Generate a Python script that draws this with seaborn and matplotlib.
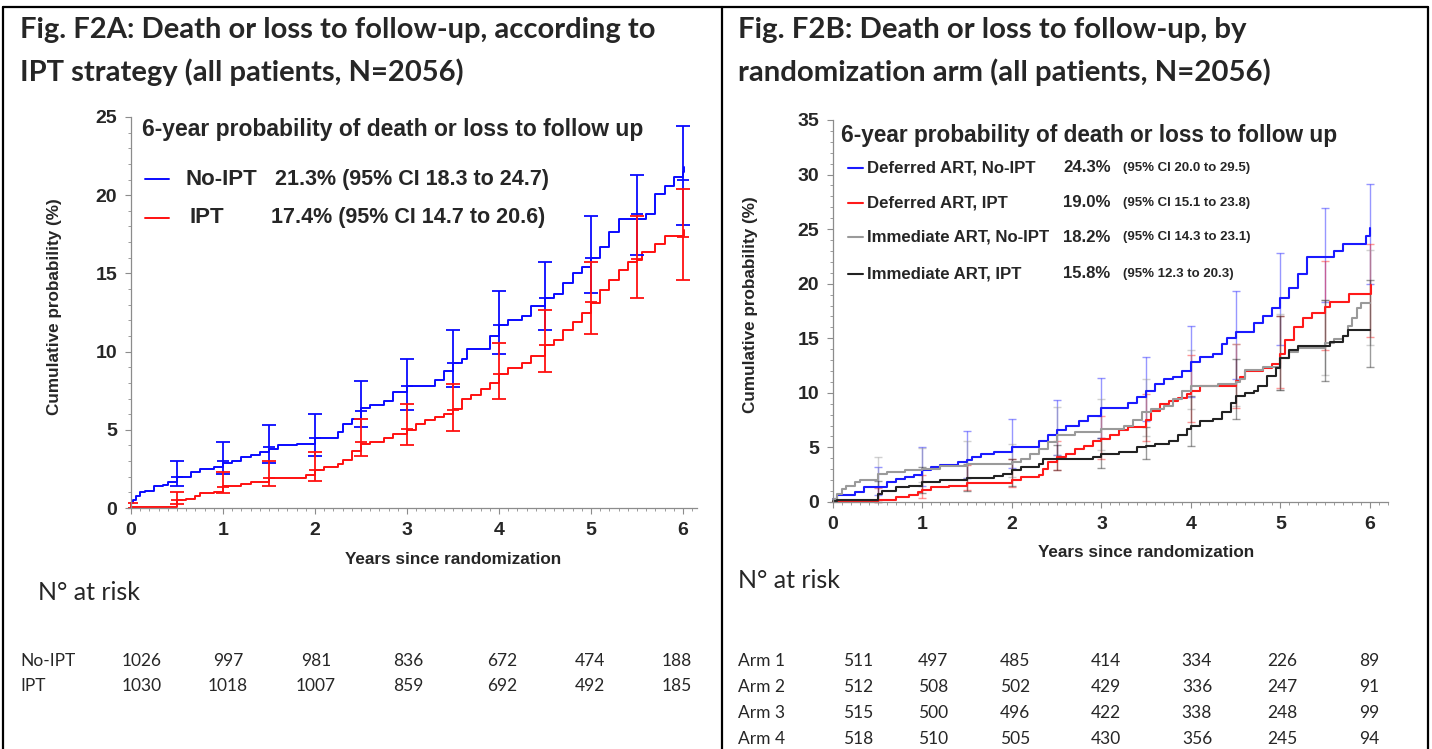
import numpy as np
import pandas as pd
import seaborn as sns
from matplotlib import pyplot as plt
from matplotlib.lines import Line2D
from matplotlib.ticker import MultipleLocator

# ---- data: left panel (IPT strategy) ----
ipt_arms = ["No-IPT", "IPT"]
noipt_t = [0, 0.02, 0.05, 0.1, 0.15, 0.25, 0.35, 0.4, 0.5, 0.65, 0.75, 0.9, 1.0, 1.1, 1.2, 1.3, 1.4,
           1.5, 1.6, 1.8, 2.0, 2.25, 2.3, 2.4, 2.5, 2.6, 2.75, 2.85, 3.0, 3.3, 3.4, 3.5, 3.6, 3.65,
           3.9, 4.0, 4.1, 4.25, 4.35, 4.5, 4.6, 4.7, 4.8, 4.9, 5.0, 5.1, 5.2, 5.3, 5.6, 5.7, 5.8,
           5.9, 6.0, 6.01]
noipt_v = [0.3, 0.5, 0.8, 1.0, 1.1, 1.4, 1.5, 1.65, 2.0, 2.3, 2.5, 2.65, 2.9, 3.0, 3.25, 3.4, 3.55,
           3.8, 4.0, 4.1, 4.45, 4.85, 5.35, 5.7, 6.4, 6.6, 6.85, 7.4, 7.8, 8.2, 8.75, 9.3, 9.5, 10.15,
           11.0, 11.7, 12.0, 12.3, 12.9, 13.4, 13.7, 14.4, 15.0, 15.4, 16.0, 16.7, 17.65, 18.5, 18.8,
           20.1, 20.6, 21.15, 21.5, 21.8]
ipt_t = [0, 0.5, 0.6, 0.7, 0.75, 0.9, 1.0, 1.2, 1.3, 1.5, 1.9, 2.0, 2.1, 2.25, 2.3, 2.4, 2.5, 2.6,
         2.75, 2.85, 3.0, 3.1, 3.2, 3.3, 3.4, 3.5, 3.6, 3.7, 3.8, 3.9, 4.0, 4.1, 4.25, 4.35, 4.5, 4.6,
         4.7, 4.8, 4.9, 5.0, 5.1, 5.2, 5.3, 5.4, 5.5, 5.55, 5.7, 5.8, 6.0, 6.01]
ipt_v = [0.05, 0.5, 0.55, 0.8, 0.95, 1.0, 1.4, 1.55, 1.65, 1.95, 2.1, 2.4, 2.6, 2.8, 3.1, 3.65, 4.1,
         4.2, 4.5, 4.75, 5.0, 5.35, 5.65, 5.8, 6.0, 6.3, 6.95, 7.25, 7.6, 8.0, 8.55, 8.95, 9.3, 9.7,
         10.4, 10.75, 11.4, 11.9, 12.45, 13.1, 13.95, 14.6, 15.2, 15.7, 15.85, 16.4, 16.9, 17.4,
         17.4, 17.8]

ci_t_a = [0.5, 1.0, 1.5, 2.0, 2.5, 3.0, 3.5, 4.0, 4.5, 5.0, 5.5, 6.0]
noipt_mid = [2.0, 3.0, 3.9, 4.5, 6.2, 7.8, 9.3, 11.7, 13.4, 16.0, 18.8, 21.0]
noipt_lo = [1.4, 2.2, 2.9, 3.3, 5.2, 6.25, 7.75, 9.85, 11.35, 13.75, 16.2, 18.1]
noipt_hi = [3.0, 4.2, 5.3, 6.0, 8.1, 9.5, 11.35, 13.9, 15.75, 18.7, 21.3, 24.4]
ci_t_b = [0.0, 0.5, 1.0, 1.5, 2.0, 2.5, 3.0, 3.5, 4.0, 4.5, 5.0, 5.5, 6.0]
ipt_mid = [0.0, 0.5, 1.35, 1.95, 2.45, 4.25, 5.05, 6.25, 8.55, 10.45, 13.2, 15.9, 17.35]
ipt_lo = [0.0, 0.25, 0.95, 1.4, 1.75, 3.3, 4.0, 4.95, 7.0, 8.7, 11.1, 13.45, 14.6]
ipt_hi = [0.3, 1.0, 2.3, 3.0, 3.55, 5.7, 6.65, 7.9, 10.55, 12.65, 15.75, 18.7, 20.4]

risk_years = [0, 1, 2, 3, 4, 5, 6]
risk_noipt = [1026, 997, 981, 836, 672, 474, 188]
risk_ipt = [1030, 1018, 1007, 859, 692, 492, 185]

# ---- data: right panel (randomization arm) ----
rand_arms = ["Deferred ART, No-IPT", "Deferred ART, IPT", "Immediate ART, No-IPT", "Immediate ART, IPT"]
arm1_t = [0, 0.05, 0.25, 0.35, 0.6, 0.7, 0.8, 0.9, 1.0, 1.1, 1.2, 1.4, 1.5, 1.55, 1.65, 1.8, 2.0,
          2.3, 2.4, 2.5, 2.6, 2.75, 2.85, 3.0, 3.3, 3.4, 3.5, 3.6, 3.7, 3.8, 3.9, 4.0, 4.1, 4.25,
          4.35, 4.4, 4.5, 4.7, 4.8, 4.9, 5.0, 5.1, 5.2, 5.3, 5.6, 5.7, 5.95, 6.0]
arm1_v = [0.3, 0.6, 0.9, 1.35, 1.8, 2.1, 2.3, 2.5, 2.9, 3.2, 3.35, 3.65, 3.8, 4.1, 4.35, 4.55, 5.0,
          5.6, 6.1, 6.55, 7.0, 7.45, 7.9, 8.65, 9.1, 9.6, 10.2, 10.8, 11.25, 11.45, 12.0, 12.8,
          13.25, 13.55, 14.45, 15.05, 15.6, 16.4, 17.05, 17.8, 18.7, 19.6, 20.85, 22.4, 23.0, 23.6,
          24.35, 25.1]
arm2_t = [0, 0.5, 0.7, 0.85, 0.95, 1.0, 1.1, 1.3, 1.5, 2.0, 2.1, 2.3, 2.35, 2.4, 2.5, 2.6, 2.7, 2.8,
          2.9, 3.0, 3.1, 3.2, 3.3, 3.5, 3.55, 3.65, 3.75, 3.85, 3.95, 4.0, 4.1, 4.5, 4.55, 4.6, 4.8,
          4.9, 5.0, 5.05, 5.15, 5.25, 5.35, 5.5, 5.55, 5.77, 6.0, 6.01]
arm2_v = [0.0, 0.15, 0.45, 0.6, 0.9, 1.1, 1.35, 1.5, 1.75, 2.05, 2.3, 2.45, 3.05, 3.65, 4.1, 4.4,
          4.85, 5.15, 5.55, 5.8, 6.1, 6.55, 6.85, 7.5, 8.35, 8.95, 9.25, 9.55, 9.9, 10.2, 10.65,
          11.1, 11.45, 12.0, 12.3, 12.6, 13.6, 14.8, 16.0, 16.9, 17.3, 17.9, 18.3, 19.05, 19.05, 19.9]
arm3_t = [0, 0.05, 0.1, 0.15, 0.25, 0.3, 0.5, 0.6, 0.8, 1.0, 1.2, 1.5, 2.0, 2.1, 2.2, 2.3, 2.4, 2.5,
          2.7, 3.0, 3.25, 3.35, 3.45, 3.55, 3.7, 3.8, 3.9, 4.0, 4.3, 4.5, 4.55, 4.6, 4.8, 5.0, 5.1,
          5.2, 5.5, 5.6, 5.7, 5.75, 5.8, 5.85, 5.9, 6.0]
arm3_v = [0.3, 0.75, 1.2, 1.5, 1.8, 2.0, 2.6, 2.75, 2.95, 3.05, 3.25, 3.5, 3.7, 3.95, 4.4, 4.85, 5.5,
          6.1, 6.4, 6.7, 7.0, 7.5, 8.2, 8.5, 8.8, 9.4, 10.2, 10.65, 10.85, 11.0, 11.3, 12.1, 12.4,
          13.2, 13.7, 14.15, 14.6, 14.9, 15.2, 16.1, 16.9, 17.8, 18.25, 18.25]
arm4_t = [0, 0.05, 0.5, 0.55, 0.7, 0.85, 1.0, 1.2, 1.5, 1.8, 1.9, 2.0, 2.1, 2.3, 2.35, 2.9, 3.0, 3.2,
          3.4, 3.5, 3.6, 3.75, 3.85, 3.95, 4.0, 4.1, 4.25, 4.35, 4.45, 4.5, 4.6, 4.7, 4.75, 4.85,
          4.95, 5.0, 5.1, 5.2, 5.55, 5.7, 5.75, 6.0]
arm4_v = [0.1, 0.2, 0.75, 1.05, 1.35, 1.5, 1.8, 2.05, 2.2, 2.35, 2.6, 2.9, 3.2, 3.5, 3.95, 4.15, 4.35,
          4.55, 5.0, 5.15, 5.3, 5.6, 6.1, 6.7, 7.0, 7.4, 7.6, 8.2, 9.1, 9.75, 9.95, 10.2, 10.65,
          11.55, 12.3, 13.2, 13.95, 14.25, 14.7, 15.2, 15.8, 15.8]

arm1_mid = [1.4, 2.9, 3.8, 5.0, 6.55, 8.65, 10.2, 12.8, 15.6, 18.7, 22.4, 24.35]
arm1_lo = [0.6, 1.5, 2.2, 3.1, 4.3, 5.9, 7.4, 9.6, 11.3, 14.4, 18.3, 20.0]
arm1_hi = [3.2, 5.0, 6.5, 7.6, 9.35, 11.4, 13.3, 16.1, 19.3, 22.8, 26.9, 29.1]
arm2_mid = [0.15, 1.1, 1.75, 2.05, 4.1, 5.8, 7.5, 10.2, 11.1, 13.6, 17.9, 19.05]
arm2_lo = [0.0, 0.4, 1.1, 1.4, 2.9, 3.9, 5.6, 7.3, 8.6, 10.4, 13.9, 15.1]
arm2_hi = [1.3, 2.5, 3.4, 3.9, 5.6, 7.9, 9.9, 13.5, 14.5, 17.0, 22.1, 23.6]
arm3_mid = [2.6, 3.05, 3.5, 3.7, 6.1, 6.7, 7.9, 10.65, 11.0, 13.2, 14.6, 18.25]
arm3_lo = [1.4, 1.8, 2.2, 2.3, 4.3, 4.8, 6.0, 8.5, 8.8, 10.3, 11.6, 14.4]
arm3_hi = [4.1, 4.9, 5.6, 5.3, 8.7, 9.4, 11.3, 13.9, 14.5, 17.2, 18.5, 23.1]
arm4_mid = [0.75, 1.8, 2.2, 2.9, 4.1, 4.35, 5.15, 7.0, 9.75, 13.2, 14.25, 15.8]
arm4_lo = [0.0, 0.8, 1.0, 1.5, 2.9, 3.1, 3.9, 5.1, 7.6, 10.3, 11.1, 12.4]
arm4_hi = [1.9, 3.2, 3.5, 3.9, 5.2, 5.9, 6.9, 9.7, 13.1, 17.0, 18.5, 20.3]

risk_arm1 = [511, 497, 485, 414, 334, 226, 89]
risk_arm2 = [512, 508, 502, 429, 336, 247, 91]
risk_arm3 = [515, 500, 496, 422, 338, 248, 99]
risk_arm4 = [518, 510, 505, 430, 356, 245, 94]

legend_a = [("No-IPT", "21.3% (95% CI 18.3 to 24.7)"), ("IPT", "17.4% (95% CI 14.7 to 20.6)")]
legend_b = [("Deferred ART, No-IPT", "24.3%", "(95% CI 20.0 to 29.5)"),
            ("Deferred ART, IPT", "19.0%", "(95% CI 15.1 to 23.8)"),
            ("Immediate ART, No-IPT", "18.2%", "(95% CI 14.3 to 23.1)"),
            ("Immediate ART, IPT", "15.8%", "(95% 12.3 to 20.3)")]

col_a = {"No-IPT": "#0a0aff", "IPT": "#ff1010"}
col_b = {"Deferred ART, No-IPT": "#1a1aff", "Deferred ART, IPT": "#ff1a1a",
         "Immediate ART, No-IPT": "#9a9a9a", "Immediate ART, IPT": "#222222"}

sns.set_style("ticks")
plt.rcParams['font.family'] = ['Liberation Sans Narrow', 'Liberation Sans', 'DejaVu Sans']

W, H = 1432, 749
fig = plt.figure(figsize=(W / 100, H / 100), dpi=100)


def fx(px):
    return px / W


def fy(py):
    return 1 - py / H


def style_axes(ax, xlim, ylim, ymax, ystep):
    ax.set_xlim(*xlim)
    ax.set_ylim(*ylim)
    sns.despine(ax=ax)
    ax.spines['left'].set_position(('data', 0))
    ax.spines['bottom'].set_position(('data', 0))
    ax.spines['left'].set_bounds(0, ymax)
    for s in ['left', 'bottom']:
        ax.spines[s].set_color('#8c8c8c')
        ax.spines[s].set_linewidth(0.9)
    ax.set_xticks(range(7))
    ax.set_yticks(np.arange(0, ymax + 0.1, ystep))
    ax.xaxis.set_minor_locator(MultipleLocator(0.1))
    ax.yaxis.set_minor_locator(MultipleLocator(1))
    ax.tick_params(which='major', length=4, width=0.8, color='#8c8c8c', pad=6)
    ax.tick_params(which='minor', length=2.5, width=0.6, color='#8c8c8c')
    for lab in ax.get_xticklabels() + ax.get_yticklabels():
        lab.set_fontweight('bold')
        lab.set_fontsize(14)
    ax.set_facecolor('white')


# ---------------- left panel ----------------
ax1 = fig.add_axes([fx(128.2), fy(509.9), fx(696.8 - 128.2), (509.9 - 112.3) / H])
df_a = pd.concat([pd.DataFrame({"t": noipt_t, "v": noipt_v, "arm": "No-IPT"}),
                  pd.DataFrame({"t": ipt_t, "v": ipt_v, "arm": "IPT"})])
sns.lineplot(data=df_a, x="t", y="v", hue="arm", palette=col_a, estimator=None, sort=False,
             drawstyle="steps-post", linewidth=1.4, legend=False, ax=ax1)
for t, mid, lo, hi, c in [(ci_t_a, noipt_mid, noipt_lo, noipt_hi, col_a["No-IPT"]),
                          (ci_t_b, ipt_mid, ipt_lo, ipt_hi, col_a["IPT"])]:
    mid = np.array(mid)
    ax1.errorbar(t, mid, yerr=[mid - np.array(lo), np.array(hi) - mid], fmt='_', ms=9, mew=1.3,
                 color=c, ecolor=c, elinewidth=1.3, capsize=4.7, capthick=1.3)
style_axes(ax1, (-0.03, 6.15), (-0.12, 25.3), 25, 5)
ax1.set_xlabel("Years since randomization", fontsize=12.3, fontweight='bold')
ax1.xaxis.set_label_coords(0.571, -0.106)
ax1.set_ylabel("Cumulative probability (%)", fontsize=12.3, fontweight='bold')
ax1.yaxis.set_label_coords(-0.116, 0.51)

ax1.text(0.0245, 0.957, "6-year probability of death or loss to follow up", transform=ax1.transAxes,
         fontsize=16.5, fontweight='bold', va='center', ha='left')
for i, (name, stat) in enumerate(legend_a):
    yy = [0.832, 0.735][i]
    ax1.add_line(Line2D([0.030, 0.071], [yy, yy], transform=ax1.transAxes,
                        color=col_a[name], lw=1.4))
    ax1.text([0.100, 0.108][i], yy, name, transform=ax1.transAxes, fontsize=16,
             fontweight='bold', va='center', ha='left')
    ax1.text([0.259, 0.252][i], yy, stat, transform=ax1.transAxes, fontsize=15.5,
             fontweight='bold', va='center', ha='left')

# ---------------- right panel ----------------
ax2 = fig.add_axes([fx(830.3), fy(503.6), fx(1387.9 - 830.3), (503.6 - 116.7) / H])
df_b = pd.concat([pd.DataFrame({"t": arm1_t, "v": arm1_v, "arm": rand_arms[0]}),
                  pd.DataFrame({"t": arm2_t, "v": arm2_v, "arm": rand_arms[1]}),
                  pd.DataFrame({"t": arm3_t, "v": arm3_v, "arm": rand_arms[2]}),
                  pd.DataFrame({"t": arm4_t, "v": arm4_v, "arm": rand_arms[3]})])
ci_b = [(arm1_mid, arm1_lo, arm1_hi), (arm2_mid, arm2_lo, arm2_hi),
        (arm3_mid, arm3_lo, arm3_hi), (arm4_mid, arm4_lo, arm4_hi)]
for arm, (mid, lo, hi) in zip(rand_arms, ci_b):
    mid = np.array(mid)
    ax2.errorbar(ci_t_a, mid, yerr=[mid - np.array(lo), np.array(hi) - mid], fmt='none',
                 ecolor=col_b[arm], elinewidth=1.0, capsize=3, capthick=1.0, alpha=0.45)
sns.lineplot(data=df_b, x="t", y="v", hue="arm", palette=col_b, estimator=None, sort=False,
             drawstyle="steps-post", linewidth=1.5, legend=False, ax=ax2)
style_axes(ax2, (-0.03, 6.2), (-0.15, 35.3), 35, 5)
ax2.set_xlabel("Years since randomization", fontsize=12.3, fontweight='bold')
ax2.xaxis.set_label_coords(0.567, -0.107)
ax2.set_ylabel("Cumulative probability (%)", fontsize=12.3, fontweight='bold')
ax2.yaxis.set_label_coords(-0.130, 0.515)

ax2.text(0.019, 0.952, "6-year probability of death or loss to follow up", transform=ax2.transAxes,
         fontsize=16.3, fontweight='bold', va='center', ha='left')
rows_b = [0.868, 0.777, 0.688, 0.594]
for i, (name, pct, ci) in enumerate(legend_b):
    yy = rows_b[i]
    ax2.add_line(Line2D([0.031, 0.058], [yy, yy], transform=ax2.transAxes, color=col_b[name], lw=1.5))
    ax2.text(0.065, yy, name, transform=ax2.transAxes, fontsize=12.1, fontweight='bold',
             va='center', ha='left')
    ax2.text(0.418, yy, pct, transform=ax2.transAxes, fontsize=12.1, fontweight='bold',
             va='center', ha='left')
    ax2.text(0.525, yy, ci, transform=ax2.transAxes, fontsize=9.5, fontweight='bold',
             va='center', ha='left')

# ---------------- titles, tables, frame ----------------
tfam = ['Lato', 'DejaVu Sans']
fig.text(fx(20), fy(30), "Fig. F2A: Death or loss to follow-up, according to", fontsize=21,
         fontweight='bold', family=tfam, va='center')
fig.text(fx(20), fy(72), "IPT strategy (all patients, N=2056)", fontsize=21,
         fontweight='bold', family=tfam, va='center')
fig.text(fx(738), fy(30), "Fig. F2B: Death or loss to follow-up, by", fontsize=21.2,
         fontweight='bold', family=tfam, va='center')
fig.text(fx(738), fy(72), "randomization arm (all patients, N=2056)", fontsize=21.2,
         fontweight='bold', family=tfam, va='center')
fig.text(fx(38), fy(593), "N° at risk", fontsize=18, family=tfam, va='center')
fig.text(fx(738), fy(580), "N° at risk", fontsize=18, family=tfam, va='center')

cols_a = [142, 228, 316, 408, 502, 590, 677]
for name, row, yy in [("No-IPT", risk_noipt, 661), ("IPT", risk_ipt, 686)]:
    fig.text(fx(20), fy(yy), name, fontsize=12.5, family=tfam, va='center')
    for x, n in zip(cols_a, row):
        fig.text(fx(x), fy(yy), str(n), fontsize=12.5, family=tfam, va='center', ha='center')

cols_b = [858, 933, 1015, 1106, 1197, 1282, 1369]
for name, row, yy in [("Arm 1", risk_arm1, 661), ("Arm 2", risk_arm2, 687),
                      ("Arm 3", risk_arm3, 713), ("Arm 4", risk_arm4, 739)]:
    fig.text(fx(738), fy(yy), name, fontsize=12.5, family=tfam, va='center')
    for x, n in zip(cols_b, row):
        fig.text(fx(x), fy(yy), str(n), fontsize=12.5, family=tfam, va='center', ha='center')

frame_kw = dict(color='black', lw=1.6, transform=fig.transFigure)
fig.add_artist(Line2D([fx(3), fx(1428)], [fy(7), fy(7)], **frame_kw))
fig.add_artist(Line2D([fx(3), fx(3)], [fy(7), fy(749)], **frame_kw))
fig.add_artist(Line2D([fx(1428), fx(1428)], [fy(7), fy(749)], **frame_kw))
fig.add_artist(Line2D([fx(722), fx(722)], [fy(7), fy(749)], **frame_kw))

fig.savefig("out.png", dpi=100)
